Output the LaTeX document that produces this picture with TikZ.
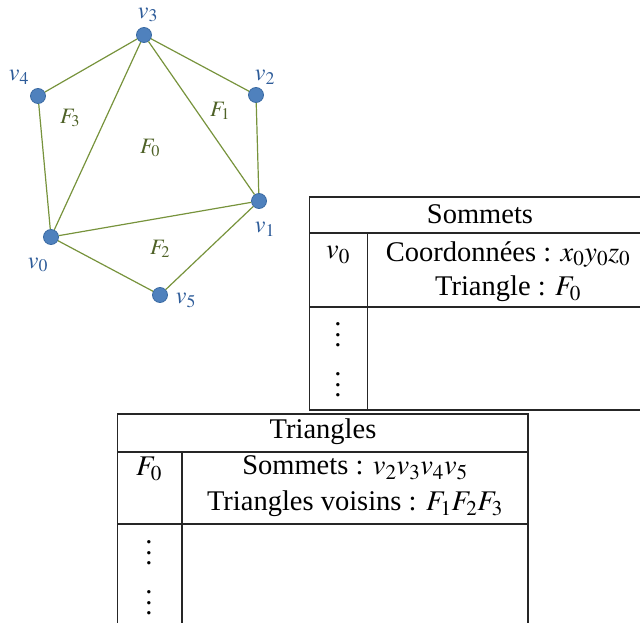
\documentclass[tikz,border=0pt]{standalone}
\usepackage{mathptmx}
\usepackage{fontspec}
\setmainfont{Liberation Serif}
\usetikzlibrary{positioning}
\definecolor{Dot}{HTML}{4F81BD}
\definecolor{DotLine}{HTML}{3A6AA3}
\definecolor{Edge}{HTML}{77933C}
\definecolor{VText}{HTML}{2E5C99}
\definecolor{FText}{HTML}{4F6228}
\newcommand{\tallvdots}{\vbox{\baselineskip=10.5pt\lineskiplimit=0pt\hbox{.}\hbox{.}\hbox{.}}}

\tikzset{
  vtx/.style={circle,fill=Dot,draw=DotLine,line width=0.8pt,minimum size=15pt,inner sep=0pt},
  edge/.style={Edge,line width=1.2pt},
  vlab/.style={VText,font=\fontsize{24}{27}\selectfont},
  flab/.style={FText,font=\fontsize{22}{25}\selectfont},
  rule/.style={black!85,line width=1.1pt},
  cell/.style={font=\fontsize{28.5}{33}\selectfont,inner sep=0pt}
}

\begin{document}
\begin{tikzpicture}[x=1pt,y=-1pt]
        \useasboundingbox (0,0) rectangle (640,623);
        % mesh vertices
        \node[vtx] (v0) at (51,237) {};
        \node[vtx] (v1) at (259,201) {};
        \node[vtx] (v2) at (256,95) {};
        \node[vtx] (v3) at (144,35) {};
        \node[vtx] (v4) at (38,96) {};
        \node[vtx] (v5) at (160,295) {};
        \draw[edge] (v3) -- (v4);
        \draw[edge] (v3) -- (v2);
        \draw[edge] (v3) -- (v0);
        \draw[edge] (v3) -- (v1);
        \draw[edge] (v4) -- (v0);
        \draw[edge] (v2) -- (v1);
        \draw[edge] (v0) -- (v1);
        \draw[edge] (v0) -- (v5);
        \draw[edge] (v5) -- (v1);
        \node[vlab] (lv0) at (38,265) {$v_0$};
        \node[vlab] (lv1) at (265,229) {$v_1$};
        \node[vlab] (lv2) at (265,77) {$v_2$};
        \node[vlab] (lv3) at (148,15) {$v_3$};
        \node[vlab] (lv4) at (19,77) {$v_4$};
        \node[vlab] (lv5) at (186,300) {$v_5$};
        \node[flab] (f0) at (150,148) {$F_0$};
        \node[flab] (f1) at (220,111) {$F_1$};
        \node[flab] (f2) at (160,249) {$F_2$};
        \node[flab] (f3) at (70,118) {$F_3$};
        % table of vertices
        \draw[rule] (309.5,197) rectangle (650,410);
        \draw[rule] (309.5,233) -- (650,233);
        \draw[rule] (309.5,307) -- (650,307);
        \draw[rule] (367.5,233) -- (367.5,410);
        \node[cell] (shead) at (480,214) {Sommets};
        \node[cell] (skey) at (338,255) {$v_0$};
        \node[cell] (sc1) at (508,254) {Coordonnées : $x_0y_0z_0$};
        \node[cell] (sc2) at (508,289) {Triangle : $F_0$};
        \node[cell] (sd1) at (338,335) {\tallvdots};
        \node[cell] (sd2) at (338,385) {\tallvdots};
        % table of triangles
        \draw[rule] (117.5,414) rectangle (528,630);
        \draw[rule] (117.5,452) -- (528,452);
        \draw[rule] (117.5,524) -- (528,524);
        \draw[rule] (182,452) -- (182,630);
        \node[cell] (thead) at (323,432) {Triangles};
        \node[cell] (tkey) at (149,469) {$F_0$};
        \node[cell] (tc1) at (355,468) {Sommets : $v_2v_3v_4v_5$};
        \node[cell] (tc2) at (355,504) {Triangles voisins : $F_1F_2F_3$};
        \node[cell] (td1) at (149,553) {\tallvdots};
        \node[cell] (td2) at (149,603) {\tallvdots};
      \end{tikzpicture}
\end{document}
